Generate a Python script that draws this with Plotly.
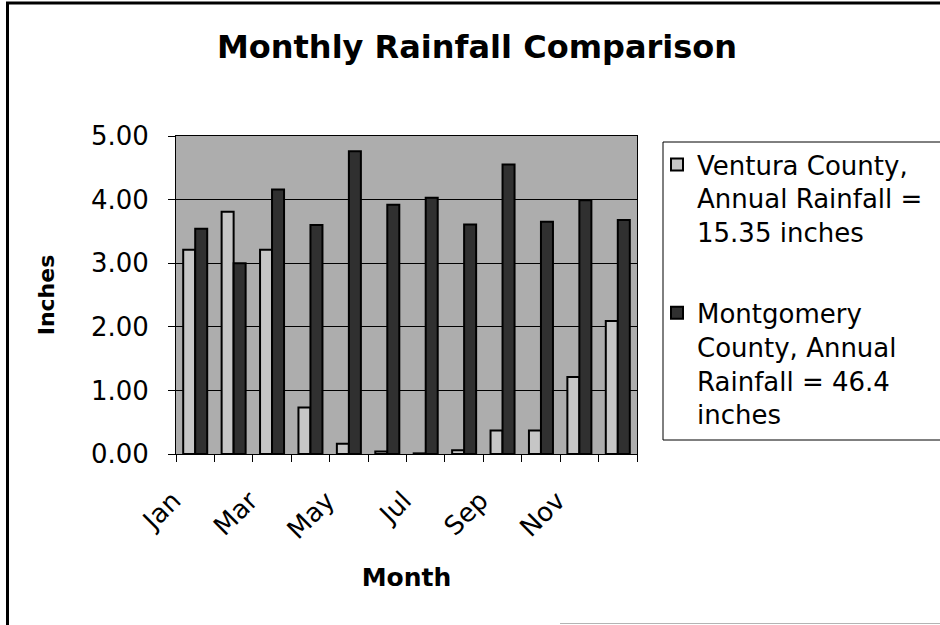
import plotly.graph_objects as go

# ---- data ----
months = ["Jan", "Feb", "Mar", "Apr", "May", "Jun",
          "Jul", "Aug", "Sep", "Oct", "Nov", "Dec"]
ventura = [3.21, 3.81, 3.21, 0.73, 0.16, 0.04, 0.01, 0.06, 0.37, 0.37, 1.21, 2.09]
montgomery = [3.54, 3.00, 4.16, 3.60, 4.76, 3.92, 4.03, 3.61, 4.55, 3.65, 3.99, 3.68]
ventura_name = "Ventura County,<br>Annual Rainfall =<br>15.35 inches"
montgomery_name = "Montgomery<br>County, Annual<br>Rainfall = 46.4<br>inches"
y_ticks = [0, 1, 2, 3, 4, 5]
x_ticktext = [m if i % 2 == 0 else "" for i, m in enumerate(months)]

# ---- layout geometry (pixels) ----
WIDTH, HEIGHT = 940, 625
L, R, T, B = 176, 303, 136, 171
PW, PH = WIDTH - L - R, HEIGHT - T - B


def px_x(px):
    return (px - L) / PW


def px_y(py):
    return (HEIGHT - B - py) / PH


FONT = "DejaVu Sans, Verdana, sans-serif"

fig = go.Figure()
fig.add_trace(go.Bar(
    x=months, y=ventura, name=ventura_name, legendgroup="v",
    marker=dict(color="#c6c6c6", line=dict(color="black", width=2)),
))
fig.add_trace(go.Bar(
    x=months, y=montgomery, name=montgomery_name, legendgroup="m",
    marker=dict(color="#303030", line=dict(color="black", width=2)),
))

fig.update_layout(
    width=WIDTH, height=HEIGHT,
    margin=dict(l=L, r=R, t=T, b=B, autoexpand=False),
    paper_bgcolor="white",
    plot_bgcolor="#adadad",
    barmode="group", bargap=0.375, bargroupgap=0,
    font=dict(family=FONT, color="black", size=26),
    title=dict(text="<b>Monthly Rainfall Comparison</b>",
               font=dict(family=FONT, size=32, color="black"),
               x=477 / WIDTH, xanchor="center", xref="container",
               y=1 - 47 / HEIGHT, yanchor="middle", yref="container"),
    legend=dict(x=px_x(657), y=px_y(141), xanchor="left", yanchor="top",
                bgcolor="rgba(0,0,0,0)", borderwidth=0,
                font=dict(family=FONT, size=26, color="black"),
                traceorder="grouped", tracegroupgap=44, valign="top"),
    xaxis=dict(
        type="category", tickmode="array", tickvals=months, ticktext=x_ticktext,
        tickson="boundaries", ticks="outside", ticklen=7, tickcolor="black",
        tickwidth=1, tickangle=-45, showline=True, linecolor="black",
        linewidth=1, mirror=True, showgrid=False,
        tickfont=dict(family=FONT, size=26),
        ticklabelshift=-22, ticklabelstandoff=20,
        title=dict(text="<b>Month</b>", font=dict(family=FONT, size=25),
                   standoff=24),
        automargin=False,
    ),
    yaxis=dict(
        range=[0, 5], tickmode="array", tickvals=y_ticks, tickformat=".2f",
        ticks="outside", ticklen=7, tickcolor="black", tickwidth=1,
        showline=True, linecolor="black", linewidth=1, mirror=True,
        showgrid=True, gridcolor="black", gridwidth=1, zeroline=False,
        tickfont=dict(family=FONT, size=26), ticklabelstandoff=14,
        title=dict(text="<b>Inches</b>", font=dict(family=FONT, size=22),
                   standoff=30),
        automargin=False,
    ),
    shapes=[
        # outer chart border
        dict(type="rect", xref="paper", yref="paper",
             x0=px_x(7.5), x1=px_x(1000), y0=px_y(3), y1=px_y(640),
             line=dict(color="black", width=3), fillcolor="rgba(0,0,0,0)",
             layer="above"),
        # faint lower edge
        dict(type="line", xref="paper", yref="paper",
             x0=px_x(560), x1=px_x(940), y0=px_y(623.5), y1=px_y(623.5),
             line=dict(color="#b4b4b4", width=1), layer="above"),
        # legend frame
        dict(type="rect", xref="paper", yref="paper",
             x0=px_x(663), x1=px_x(1000), y0=px_y(142), y1=px_y(440),
             line=dict(color="black", width=1), fillcolor="rgba(0,0,0,0)",
             layer="above"),
    ],
)

fig.write_html(
    "out.html",
    config={"displayModeBar": False},
    post_script="document.body.style.margin='0px';"
                "document.body.style.overflow='hidden';",
)
